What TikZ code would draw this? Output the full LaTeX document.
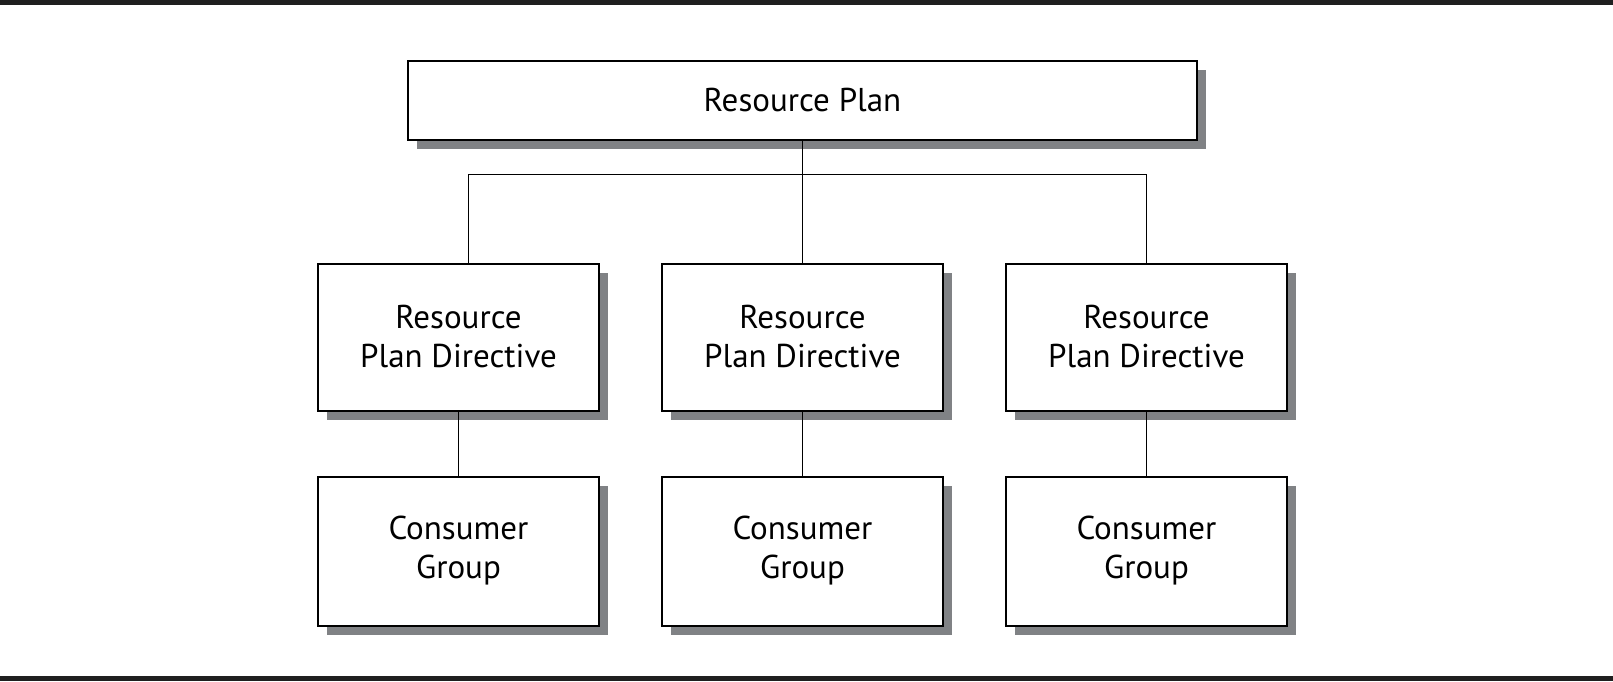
\documentclass[tikz,border=0pt]{standalone}
\usepackage{fontspec}
\setmainfont{PT Sans}
\usetikzlibrary{positioning,shadows,calc}
\definecolor{shadowgray}{RGB}{128,130,133}
\tikzset{
  tree/box/.style={draw, line width=1pt, fill=white, align=center, inner sep=2pt,
    font=\fontsize{16.5}{19.5}\selectfont,
    drop shadow={shadow xshift=4.5pt, shadow yshift=-4.5pt, fill=shadowgray, opacity=1}},
  tree/plan/.style={tree/box, minimum width=394.5pt, minimum height=39.5pt},
  tree/directive/.style={tree/box, minimum width=140.5pt, minimum height=73.5pt},
  tree/group/.style={tree/box, minimum width=140.5pt, minimum height=74.5pt},
  tree/line/.style={line width=0.9pt},
  tree/rule/.style={line width=2.5pt, color=black!88}
}
\begin{document}
\begin{tikzpicture}[node distance=61pt and 30.5pt]
  \useasboundingbox (-401.25pt,50pt) rectangle (405.25pt,-290.5pt);
  \draw[tree/rule] (-401.25pt,48.75pt) -- (405.25pt,48.75pt);
  \draw[tree/rule] (-401.25pt,-289.25pt) -- (405.25pt,-289.25pt);

  \node[tree/plan] (plan) at (0,0) {Resource Plan};
  \node[tree/directive, below=61pt of plan] (dir2) {Resource\\Plan Directive};
  \node[tree/directive, left=30.5pt of dir2] (dir1) {Resource\\Plan Directive};
  \node[tree/directive, right=30.5pt of dir2] (dir3) {Resource\\Plan Directive};

  \node[tree/group, below=32pt of dir1] (grp1) {Consumer\\Group};
  \node[tree/group, below=32pt of dir2] (grp2) {Consumer\\Group};
  \node[tree/group, below=32pt of dir3] (grp3) {Consumer\\Group};

  \coordinate (bar) at ($(plan.south)+(0,-17pt)$);
  \coordinate (leftdrop) at ($(dir1.north)+(5pt,0)$);
  \draw[tree/line] (plan.south) -- (dir2.north);
  \draw[tree/line] (leftdrop) |- (bar) -| (dir3.north);
  \foreach \i in {1,2,3}
    \draw[tree/line] (dir\i.south) -- (grp\i.north);
\end{tikzpicture}
\end{document}
